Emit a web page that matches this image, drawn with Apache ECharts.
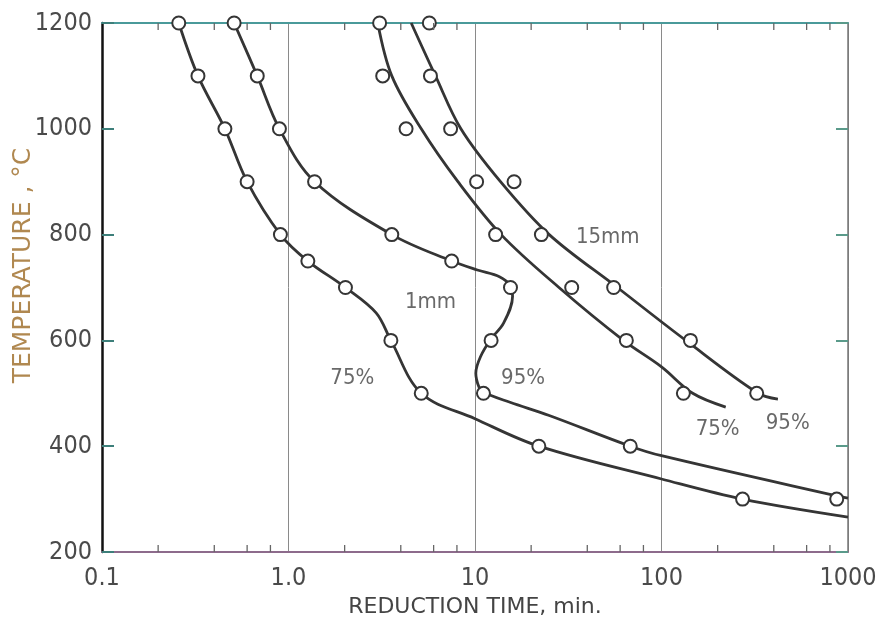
<!DOCTYPE html>
<html><head><meta charset="utf-8">
<script src="https://cdn.jsdelivr.net/npm/echarts@6/dist/echarts.min.js"></script>
<style>html,body{margin:0;padding:0;background:#fff}#c{width:881px;height:630px}</style>
</head><body><div id="c"></div>
<script>
// ---- tick labels ----
const xTickValues = [0.1, 1, 10, 100, 1000];
const xTickLabels = ["0.1", "1.0", "10", "100", "1000"];
const xMinorTicks = [0.2,0.4,0.6,0.8, 2,4,6,8, 20,40,60,80, 200,400,600,800];

// ---- 1 mm, 75 % ----
const mm1_75_markX = [0.258,0.327,0.456,0.60,0.905,1.27,2.02,3.54,5.15,22,272];
const mm1_75_markY = [1200,1100,1000,900,800,750,700,600,500,400,300];
const mm1_75_lineX = [0.258,0.327,0.456,0.60,0.905,1.27,2.02,2.95,3.54,5.15,10,22,100,272,1000];
const mm1_75_lineY = [1200,1100,1000,900,800,750,700,652,600,500,452,400,338,300,266];

// ---- 1 mm, 95 % ----
const mm1_95_markX = [0.511,0.68,0.894,1.38,3.58,7.5,15.5,12.2,11.1,68,870];
const mm1_95_markY = [1200,1100,1000,900,800,750,700,600,500,400,300];
const mm1_95_lineX = [0.511,0.68,0.894,1.38,3.58,7.5,10.3,13.6,15.5,15.9,14.2,12.2,10.7,10.1,10.5,11.1,15.4,25,68,100,870,1000];
const mm1_95_lineY = [1200,1100,1000,900,800,750,733,720,703,683,632,603,569,538,512,502,483,458,400,382,306,302];

// ---- 15 mm, 75 % ----
const mm15_75_markX = [3.08,3.20,4.27,10.2,12.9,33,64.8,131];
const mm15_75_markY = [1200,1100,1000,900,800,700,600,500];
const mm15_75_lineX = [3.01,3.58,5.15,8.1,13.8,28.2,62.5,100,147,221];
const mm15_75_lineY = [1200,1100,1000,900,800,700,600,550,500,474];

// ---- 15 mm, 95 % ----
const mm15_95_markX = [5.69,5.77,7.4,16.2,22.7,55.4,143,324];
const mm15_95_markY = [1200,1100,1000,900,800,700,600,500];
const mm15_95_lineX = [4.55,6.14,8.4,13.7,25,58,135,330,421];
const mm15_95_lineY = [1200,1100,1000,900,800,700,600,500,489];

// ---- annotations ----
const noteText = ["15mm","1mm","75%","95%","75%","95%"];
const noteX = [51.5,5.77,2.2,18.1,200,475];
const noteY = [795,673,529,529,432,444];

const FONT = '"DejaVu Sans Condensed","Liberation Sans Narrow","Liberation Sans",sans-serif';
const FONT_WIDE = '"DejaVu Sans","Liberation Sans",sans-serif';
const INK = '#353535';
const zip = (a,b) => a.map((v,i)=>[v,b[i]]);

function lineSeries(xs, ys){
  return {type:'line', data: zip(xs,ys), smooth:0.35, showSymbol:false, silent:true, z:3,
    lineStyle:{color:INK, width:2.8}};
}
function markSeries(xs, ys){
  return {type:'scatter', data: zip(xs,ys), symbol:'circle', symbolSize:13, silent:true, z:4,
    itemStyle:{color:'#fff', borderColor:INK, borderWidth:2, opacity:1}};
}
function tickSeries(yVal, dir){
  return {type:'custom', silent:true, clip:false, z:5,
    data: xMinorTicks.map(v=>[v,yVal]),
    encode:{x:0,y:1},
    renderItem:(p,api)=>{
      const pt = api.coord([api.value(0), api.value(1)]);
      return {type:'line', shape:{x1:pt[0],y1:pt[1],x2:pt[0],y2:pt[1]+dir*7},
        style:{stroke:'#666', lineWidth:1.3}};
    }};
}

const chart = echarts.init(document.getElementById('c'), null, {renderer:'canvas'});
chart.setOption({
  animation:false,
  backgroundColor:'#fff',
  grid:{left:102, right:33, top:23, bottom:78, containLabel:false, outerBoundsMode:'none'},
  xAxis:[{
    type:'log', logBase:10, min:0.1, max:1000, position:'bottom',
    name:'REDUCTION TIME, min.', nameLocation:'middle', nameGap:42,
    nameTextStyle:{fontFamily:FONT_WIDE, fontSize:22, color:'#444'},
    axisLine:{show:true, lineStyle:{color:'#8d6b8c', width:2}},
    axisTick:{show:false},
    axisLabel:{margin:14, fontFamily:FONT, fontSize:25, color:'#4a4a4a',
      formatter:(v)=>{
        for(let i=0;i<xTickValues.length;i++){
          if(Math.abs(Math.log10(v)-Math.log10(xTickValues[i]))<1e-6) return xTickLabels[i];
        }
        return '';
      }},
    splitLine:{show:true, lineStyle:{color:'#8a8a8a', width:1}}
  },{
    type:'log', logBase:10, min:0.1, max:1000, position:'top',
    axisLine:{show:true, lineStyle:{color:'#4a9a9a', width:2}},
    axisTick:{show:false}, axisLabel:{show:false}, splitLine:{show:false}
  }],
  yAxis:[{
    type:'value', min:200, max:1200, interval:200, position:'left',
    name:'TEMPERATURE , °C', nameLocation:'middle', nameGap:66, nameRotate:90, nameMoveOverlap:false,
    nameTextStyle:{fontFamily:FONT_WIDE, fontSize:25, color:'#b08850', padding:[0,0,0,44]},
    axisLine:{show:true, lineStyle:{color:'#111', width:2.5}},
    axisTick:{show:true, inside:true, length:12, lineStyle:{color:'#3d7f7a', width:2}},
    axisLabel:{margin:10, fontFamily:FONT, fontSize:25, color:'#4a4a4a', formatter:(v)=>String(v)},
    splitLine:{show:false}
  },{
    type:'value', min:200, max:1200, interval:200, position:'right',
    axisLine:{show:true, lineStyle:{color:'#777', width:1.5}},
    axisTick:{show:true, inside:true, length:12, lineStyle:{color:'#5a9a8a', width:2}},
    axisLabel:{show:false}, splitLine:{show:false}
  }],
  series:[
    lineSeries(mm1_75_lineX, mm1_75_lineY),
    lineSeries(mm1_95_lineX, mm1_95_lineY),
    lineSeries(mm15_75_lineX, mm15_75_lineY),
    lineSeries(mm15_95_lineX, mm15_95_lineY),
    markSeries(mm1_75_markX, mm1_75_markY),
    markSeries(mm1_95_markX, mm1_95_markY),
    markSeries(mm15_75_markX, mm15_75_markY),
    markSeries(mm15_95_markX, mm15_95_markY),
    tickSeries(200, -1),
    tickSeries(1200, 1),
    {type:'scatter', silent:true, z:6, symbolSize:0,
      data: noteText.map((t,i)=>({name:t, value:[noteX[i], noteY[i]]})),
      label:{show:true, position:'inside', formatter:'{b}', fontFamily:FONT, fontSize:22, color:'#444'}}
  ]
});
</script></body></html>
